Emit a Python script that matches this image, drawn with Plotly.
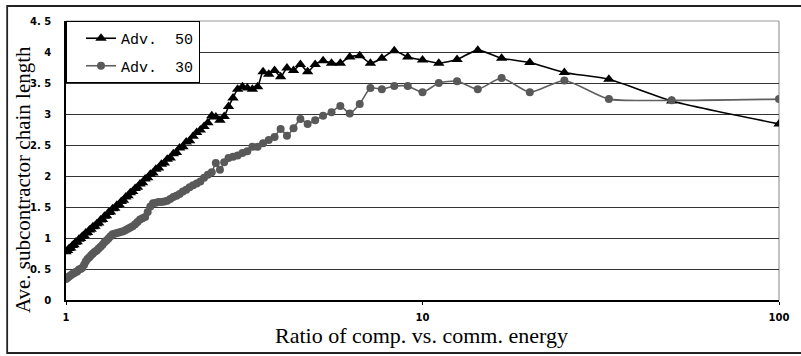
import plotly.graph_objects as go

ratio = [1.000, 1.010, 1.020, 1.031, 1.042, 1.053, 1.064, 1.075, 1.087, 1.099,
         1.111, 1.124, 1.136, 1.149, 1.163, 1.176, 1.190, 1.205, 1.220, 1.235,
         1.250, 1.266, 1.282, 1.299, 1.316, 1.333, 1.351, 1.370, 1.389, 1.408,
         1.429, 1.449, 1.471, 1.493, 1.515, 1.538, 1.563, 1.587, 1.613, 1.639,
         1.667, 1.695, 1.724, 1.754, 1.786, 1.818, 1.852, 1.887, 1.923, 1.961,
         2.000, 2.041, 2.083, 2.128, 2.174, 2.222, 2.273, 2.326, 2.381, 2.439,
         2.500, 2.564, 2.632, 2.703, 2.778, 2.857, 2.941, 3.030, 3.125, 3.226,
         3.333, 3.448, 3.571, 3.704, 3.846, 4.000, 4.167, 4.348, 4.545, 4.762,
         5.000, 5.263, 5.556, 5.882, 6.250, 6.667, 7.143, 7.692, 8.333, 9.091,
         10.00, 11.11, 12.50, 14.29, 16.67, 20.00, 25.00, 33.33, 50.00, 100.0]

adv50 = [0.78, 0.80, 0.83, 0.84, 0.88, 0.89, 0.93, 0.94, 0.98, 0.99,
         1.03, 1.04, 1.08, 1.09, 1.13, 1.14, 1.18, 1.19, 1.23, 1.24,
         1.29, 1.30, 1.35, 1.36, 1.41, 1.42, 1.47, 1.48, 1.53, 1.54,
         1.59, 1.61, 1.66, 1.68, 1.73, 1.75, 1.80, 1.82, 1.87, 1.89,
         1.95, 1.97, 2.03, 2.05, 2.11, 2.13, 2.19, 2.21, 2.27, 2.29,
         2.36, 2.38, 2.45, 2.47, 2.55, 2.57, 2.64, 2.70, 2.74, 2.80,
         2.86, 2.97, 2.95, 2.90, 2.96, 3.12, 3.26, 3.40, 3.44, 3.42,
         3.40, 3.44, 3.68, 3.64, 3.70, 3.60, 3.74, 3.70, 3.80, 3.68,
         3.80, 3.86, 3.82, 3.82, 3.92, 3.94, 3.82, 3.90, 4.02, 3.92,
         3.87, 3.82, 3.88, 4.03, 3.90, 3.83, 3.67, 3.56, 3.21, 2.84]

adv30 = [0.34, 0.36, 0.38, 0.40, 0.42, 0.43, 0.45, 0.46, 0.49, 0.50,
         0.52, 0.57, 0.62, 0.66, 0.69, 0.72, 0.75, 0.78, 0.80, 0.83,
         0.86, 0.89, 0.93, 0.96, 0.99, 1.03, 1.06, 1.07, 1.08, 1.09,
         1.10, 1.11, 1.13, 1.15, 1.17, 1.19, 1.22, 1.26, 1.30, 1.32,
         1.34, 1.42, 1.51, 1.56, 1.57, 1.58, 1.58, 1.59, 1.60, 1.63,
         1.66, 1.68, 1.71, 1.75, 1.78, 1.82, 1.85, 1.88, 1.91, 1.97,
         2.02, 2.06, 2.21, 2.10, 2.22, 2.29, 2.31, 2.33, 2.37, 2.40,
         2.47, 2.47, 2.53, 2.58, 2.63, 2.76, 2.65, 2.77, 2.92, 2.84,
         2.90, 2.97, 3.03, 3.13, 3.01, 3.16, 3.42, 3.40, 3.45, 3.45,
         3.35, 3.50, 3.53, 3.40, 3.58, 3.35, 3.54, 3.24, 3.22, 3.24]

y_ticks = [0, 0.5, 1, 1.5, 2, 2.5, 3, 3.5, 4, 4.5]
y_tick_text = ["0", "0. 5", "1", "1. 5", "2", "2. 5", "3", "3. 5", "4", "4. 5"]
x_ticks = [1, 10, 100]
x_tick_text = ["1", "10", "100"]

W, H = 801, 356
L, R, T, B = 66, 781, 21, 300

def px(xp):
    return (xp - L) / (R - L)

def py(yp):
    return (B - yp) / (B - T)

fig = go.Figure()
fig.add_trace(go.Scatter(
    x=ratio, y=adv50, name="Adv.\u00a0\u00a050", mode="lines+markers",
    legendgroup="a",
    line=dict(color="#000000", width=1.6, shape="spline", smoothing=0.6),
    marker=dict(symbol="triangle-up", size=10, color="#000000"),
))
fig.add_trace(go.Scatter(
    x=ratio, y=adv30, name="Adv.\u00a0\u00a030", mode="lines+markers",
    legendgroup="b",
    line=dict(color="#606060", width=1.6, shape="spline", smoothing=0.6),
    marker=dict(symbol="circle", size=8, color="#595959"),
))

fig.update_layout(
    width=W, height=H,
    margin=dict(l=L, r=W - R, t=T, b=H - B, pad=0),
    paper_bgcolor="white", plot_bgcolor="white",
    showlegend=True,
    legend=dict(x=0, y=1, xanchor="left", yanchor="top",
                bordercolor="#000000", borderwidth=1, bgcolor="white",
                font=dict(family="Liberation Mono", size=15, color="#000000"),
                entrywidth=114, entrywidthmode="pixels",
                indentation=14, tracegroupgap=5),
    xaxis=dict(type="log", range=[0, 2], tickvals=x_ticks, ticktext=x_tick_text,
               showgrid=False, showline=True, linecolor="#000000", linewidth=1.5,
               ticks="outside", ticklen=3, tickcolor="#000000",
               ticklabelstandoff=4,
               tickfont=dict(family="DejaVu Sans", size=10, color="#000000", weight="bold"),
               zeroline=False),
    yaxis=dict(range=[0, 4.5], tickvals=y_ticks, ticktext=y_tick_text,
               showgrid=True, gridcolor="#333333", gridwidth=1.3,
               showline=True, linecolor="#000000", linewidth=1.5,
               ticks="", ticklabelstandoff=11,
               tickfont=dict(family="DejaVu Sans", size=10, color="#000000", weight="bold"),
               zeroline=False),
    shapes=[
        dict(type="line", xref="paper", yref="paper", x0=0, x1=1, y0=1, y1=1,
             line=dict(color="#9a9a9a", width=1.2), layer="between"),
        dict(type="line", xref="paper", yref="paper", x0=1, x1=1, y0=0, y1=1,
             line=dict(color="#9a9a9a", width=1.2), layer="between"),
        dict(type="rect", xref="paper", yref="paper",
             x0=px(7), x1=px(806), y0=py(353), y1=py(6),
             line=dict(color="#222222", width=1.8), layer="below"),
    ],
    annotations=[
        dict(text="Ratio of comp. vs. comm. energy", xref="paper", yref="paper",
             x=px(422), y=py(336), xanchor="center", yanchor="middle",
             showarrow=False,
             font=dict(family="Liberation Serif", size=22, color="#000000")),
        dict(text="Ave. subcontractor chain length", xref="paper", yref="paper",
             x=px(23), y=py(180), xanchor="center", yanchor="middle",
             textangle=-90, showarrow=False,
             font=dict(family="Liberation Serif", size=21, color="#000000")),
    ],
)

fig.write_html("out.html")
